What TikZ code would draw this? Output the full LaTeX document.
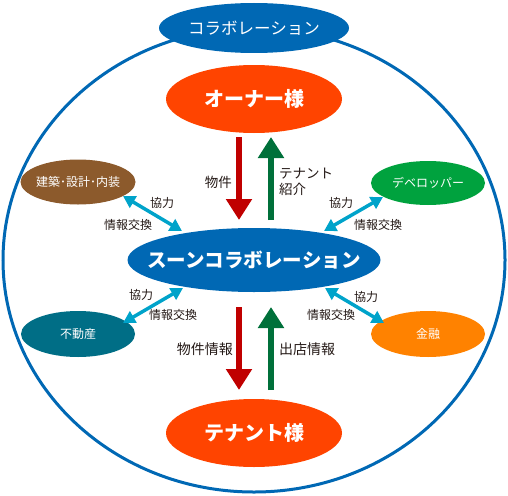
\documentclass[tikz,border=0pt]{standalone}
\usepackage{fontspec}
\setmainfont{Noto Sans CJK JP}
\usetikzlibrary{arrows.meta}
\definecolor{cblue}{HTML}{0068B4}
\definecolor{cred}{HTML}{FF4400}
\definecolor{darr}{HTML}{C00000}
\definecolor{garr}{HTML}{00703A}
\definecolor{cbrown}{HTML}{8C5A2C}
\definecolor{cgreen}{HTML}{00A23E}
\definecolor{cteal}{HTML}{006E86}
\definecolor{corange}{HTML}{FF8200}
\definecolor{ccyan}{HTML}{00A3CA}
\definecolor{ctext}{HTML}{231815}
\tikzset{
  x=1pt,y=-1pt,
  bigtxt/.style={inner sep=0pt,text=white,font=\bfseries\fontsize{20}{20}\selectfont},
  smalltxt/.style={inner sep=0pt,text=white,font=\fontsize{12}{12}\selectfont},
  lbl/.style={inner sep=0pt,text=ctext,font=\fontsize{12}{12}\selectfont},
  biglbl/.style={inner sep=0pt,text=ctext,font=\fontsize{13.5}{16}\selectfont,align=left},
  flowarrow/.style={line width=5.5pt,-{Triangle[width=25pt,length=21pt]}},
  linkarrow/.style={ccyan,line width=3.5pt,{Triangle[width=13pt,length=12pt]}-{Triangle[width=13pt,length=12pt]}},
}
\begin{document}
\begin{tikzpicture}
\useasboundingbox (0,0) rectangle (508,495);
% outer ring
\draw[cblue,line width=3pt] (254,260) ellipse [x radius=251pt, y radius=232pt];
% main ellipses
\fill[cblue] (254,28) ellipse [x radius=95pt, y radius=25pt];
\node[bigtxt,font=\fontsize{16.5}{16.5}\selectfont] (collab) at (254,28) {コラボレーション};
\fill[cred] (254,99) ellipse [x radius=88pt, y radius=34pt];
\node[bigtxt] (owner) at (254,99) {オーナー様};
\fill[cblue] (254,260) ellipse [x radius=126.5pt, y radius=32pt];
\node[bigtxt,font=\bfseries\fontsize{19.5}{19.5}\selectfont] (soon) at (254,260) {スーンコラボレーション};
\fill[cred] (254,433) ellipse [x radius=88pt, y radius=34pt];
\node[bigtxt] (tenant) at (254,433) {テナント様};
% partner ellipses
\fill[cbrown] (78,182) ellipse [x radius=57.5pt, y radius=22.5pt];
\node[smalltxt] (arch) at (78,182) {建築･設計･内装};
\fill[cgreen] (428,183) ellipse [x radius=57pt, y radius=22pt];
\node[smalltxt] (dev) at (428,183) {デベロッパー};
\fill[cteal] (78,334) ellipse [x radius=57pt, y radius=23pt];
\node[smalltxt] (estate) at (78,334) {不動産};
\fill[corange] (428,334) ellipse [x radius=57pt, y radius=23pt];
\node[smalltxt] (fin) at (428,334) {金融};
% vertical flow arrows
\coordinate (r1s) at (239,137); \coordinate (r1e) at (239,220);
\coordinate (g1s) at (271,220); \coordinate (g1e) at (271,137);
\coordinate (r2s) at (239,307); \coordinate (r2e) at (239,390);
\coordinate (g2s) at (271,390); \coordinate (g2e) at (271,307);
\draw[flowarrow,darr] (r1s) -- (r1e);
\draw[flowarrow,garr] (g1s) -- (g1e);
\draw[flowarrow,darr] (r2s) -- (r2e);
\draw[flowarrow,garr] (g2s) -- (g2e);
\node[biglbl,anchor=east] (l1) at (232,182) {物件};
\node[biglbl,anchor=west] (l2) at (279,182) {テナント\\紹介};
\node[biglbl,anchor=east,font=\fontsize{14}{14}\selectfont] (l3) at (233,349) {物件情報};
\node[biglbl,anchor=west,font=\fontsize{14}{14}\selectfont] (l4) at (279,349) {出店情報};
% link arrows
\coordinate (a1) at (123,196); \coordinate (a2) at (182,231);
\coordinate (b1) at (383,197); \coordinate (b2) at (324,231);
\coordinate (c1) at (183,288); \coordinate (c2) at (123,323);
\coordinate (d1) at (325,288); \coordinate (d2) at (384,323);
\draw[linkarrow] (a1) -- (a2);
\draw[linkarrow] (b1) -- (b2);
\draw[linkarrow] (c1) -- (c2);
\draw[linkarrow] (d1) -- (d2);
\node[lbl] (k1) at (162,203) {協力};
\node[lbl] (j1) at (128,225) {情報交換};
\node[lbl] (k2) at (341,203) {協力};
\node[lbl] (j2) at (378,225) {情報交換};
\node[lbl] (k3) at (141,295) {協力};
\node[lbl] (j3) at (173,315) {情報交換};
\node[lbl] (k4) at (366,297) {協力};
\node[lbl] (j4) at (331,315) {情報交換};
\end{tikzpicture}
\end{document}
